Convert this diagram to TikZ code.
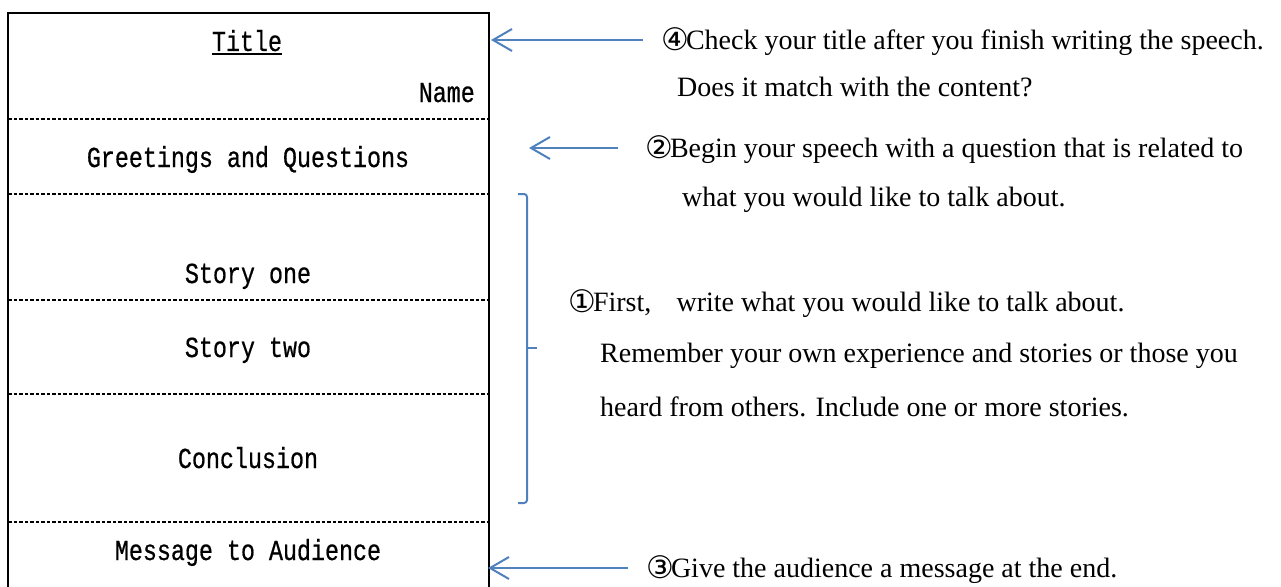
\documentclass[tikz,border=0pt]{standalone}
\usepackage{fontspec}
\setmainfont{Liberation Serif}
\newfontfamily\gothic[FakeStretch=0.805,FakeBold=0.6]{Liberation Mono}
\newfontfamily\circfont{DejaVu Sans}
\usetikzlibrary{arrows.meta}
\definecolor{arrblue}{RGB}{79,129,189}
\newcommand{\cnum}[1]{{\circfont\fontsize{31}{34}\selectfont\raisebox{-1pt}{#1}}\hspace{-3pt}}
\tikzset{
  boxtext/.style={inner sep=0pt, text height=20pt, text depth=0pt, font=\gothic\fontsize{29}{34}\selectfont},
  note/.style={anchor=west, inner sep=0pt, text height=18.5pt, text depth=0pt, font=\fontsize{28}{34}\selectfont},
  dashline/.style={line width=1.7pt, dash pattern=on 3.5pt off 2pt},
  frame/.style={line width=2pt},
  arr/.style={draw=arrblue, line width=2pt, -{Straight Barb[length=19pt,width=22pt,line width=2pt]}},
  brace/.style={draw=arrblue, line width=2pt, rounded corners=3pt}
}
\begin{document}
\begin{tikzpicture}[x=1pt,y=-1pt]
\useasboundingbox (0,0) rectangle (1281,586);
% frame
\draw[frame] (8,590) -- (8,13) -- (489,13) -- (489,590);
\foreach \yy in {119,194,300,394,522} \draw[dashline] (8,\yy) -- (489,\yy);
% box texts
\node[boxtext] (title) at (247,41) {Title};
\draw[line width=1.8pt] ([yshift=-13pt]title.west) -- ([yshift=-13pt]title.east);
\node[boxtext, anchor=east] (name) at (475,92) {Name};
\node[boxtext] (greet) at (248,157) {Greetings and Questions};
\node[boxtext] (s1) at (248,273) {Story one};
\node[boxtext] (s2) at (248,347) {Story two};
\node[boxtext] (concl) at (248,458) {Conclusion};
\node[boxtext] (msg) at (248,550) {Message to Audience};
% notes
\node[note] (n4a) at (661,40) {\cnum{④}Check your title after you finish writing the speech.};
\node[note] (n4b) at (677,87) {Does it match with the content?};
\node[note] (n2a) at (645,148) {\cnum{②}Begin your speech with a question that is related to};
\node[note] (n2b) at (682,197) {what you would like to talk about.};
\node[note] (n1a) at (568,302) {\cnum{①}First,\hspace{0.9em}write what you would like to talk about.};
\node[note] (n1b) at (600,353) {Remember your own experience and stories or those you};
\node[note] (n1c) at (600,407) {heard from others. Include one or more stories.};
\node[note] (n3) at (646,568) {\cnum{③}Give the audience a message at the end.};
% arrows
\coordinate (t4) at (643,40); \coordinate (h4) at (491,40);
\coordinate (t2) at (618,148); \coordinate (h2) at (529,148);
\coordinate (t3) at (628,568); \coordinate (h3) at (488,568);
\draw[arr] (t4) -- (h4);
\draw[arr] (t2) -- (h2);
\draw[arr] (t3) -- (h3);
% bracket
\coordinate (bt) at (518,194); \coordinate (bb) at (518,503); \coordinate (bm) at (537,348);
\draw[brace] (bt) -- (527,194) -- (527,503) -- (bb);
\draw[draw=arrblue, line width=2pt] (527,348) -- (bm);
\end{tikzpicture}
\end{document}
